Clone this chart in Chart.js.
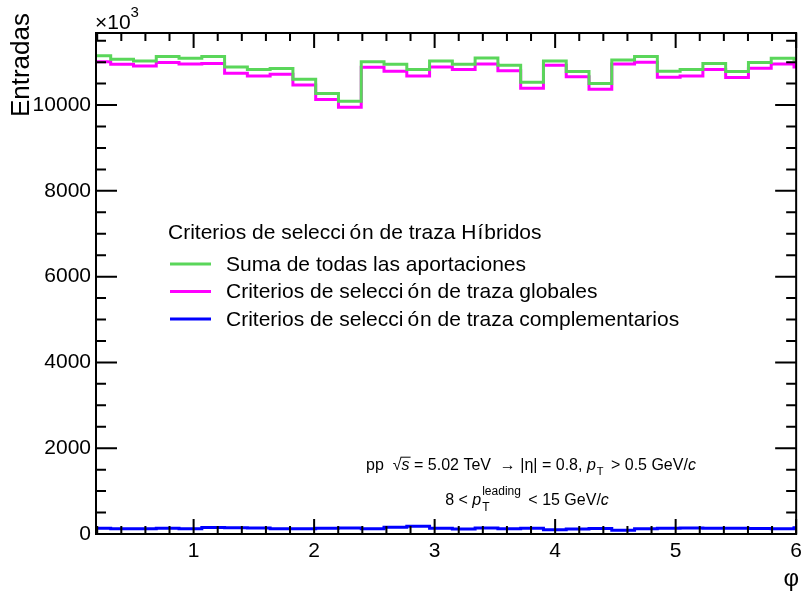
<!DOCTYPE html>
<html>
<head>
<meta charset="utf-8">
<script src="https://cdn.jsdelivr.net/npm/chart.js@4.4.0/dist/chart.umd.min.js"></script>
<style>
  html, body { margin: 0; padding: 0; background: #fff; }
</style>
</head>
<body>
<canvas id="phiChart" width="807" height="593"></canvas>
<script>
// Bordes de los bins en φ (el primero y el último quedan cortados por el eje)
const phiEdges = [0.123, 0.312, 0.501, 0.690, 0.879, 1.068, 1.257, 1.446, 1.635, 1.824,
                  2.013, 2.202, 2.391, 2.580, 2.769, 2.958, 3.147, 3.336, 3.525, 3.714,
                  3.903, 4.092, 4.281, 4.470, 4.659, 4.848, 5.037, 5.226, 5.415, 5.604,
                  5.793, 5.982, 6.171];

// Entradas por bin
const sumaTotal = [11150, 11070, 11030, 11130, 11090, 11130, 10890, 10830, 10850, 10600,
                   10270, 10090, 11010, 10950, 10830, 11030, 10950, 11100, 10930, 10530,
                   11030, 10780, 10500, 11050, 11130, 10790, 10830, 10970, 10780, 10990,
                   11090, 11070];
const trazasGlobales = [11010, 10950, 10910, 10990, 10960, 10970, 10740, 10680, 10720, 10470,
                        10130, 9950, 10880, 10790, 10680, 10890, 10830, 10960, 10800, 10390,
                        10930, 10660, 10370, 10960, 11000, 10650, 10680, 10830, 10640, 10860,
                        10960, 10890];
const trazasComplementarias = [135, 120, 120, 135, 125, 150, 145, 140, 125, 125,
                               135, 140, 125, 155, 180, 135, 115, 140, 125, 135,
                               100, 115, 130, 90, 125, 135, 140, 135, 135, 130,
                               125, 145];

// Marcas de los ejes
const xTicks = [1, 2, 3, 4, 5, 6];
const yTicks = [0, 2000, 4000, 6000, 8000, 10000];

const legendTitle = 'Criterios de selección de traza Híbridos';
const seriesNames = ['Suma de todas las aportaciones',
                     'Criterios de selección de traza globales',
                     'Criterios de selección de traza complementarios'];

const FONT = '"Liberation Sans", Arial, Helvetica, sans-serif';

// Convierte bordes + contenidos en puntos para una línea escalonada
function toSteps(values) {
    return phiEdges.map((e, i) => ({ x: e, y: values[Math.min(i, values.length - 1)] }));
}

function stepDataset(label, values, color) {
    return {
        label: label,
        data: toSteps(values),
        borderColor: color,
        backgroundColor: color,
        borderWidth: 3,
        stepped: true,
        pointRadius: 0,
        fill: false
    };
}

// Texto de leyenda: las vocales acentuadas llevan algo de aire alrededor, como en TLatex
function drawLegendText(ctx, text, x, y) {
    const spacing = { 'ó': [4, 1], 'í': [1, 1] };
    let buf = '';
    const flush = () => {
        if (!buf) return;
        ctx.fillText(buf, x, y);
        x += ctx.measureText(buf).width;
        buf = '';
    };
    for (const ch of text) {
        if (spacing[ch]) {
            flush();
            x += spacing[ch][0];
            ctx.fillText(ch, x, y);
            x += ctx.measureText(ch).width + spacing[ch][1];
        } else {
            buf += ch;
        }
    }
    flush();
}

// Dibuja un texto compuesto por trozos (cursiva, subíndices, superíndices)
function drawPieces(ctx, pieces, cx, baseY, size) {
    const fontOf = p => `${p.italic ? 'italic ' : ''}${Math.round(size * (p.scale || 1))}px ${FONT}`;
    let total = 0;
    pieces.forEach(p => {
        if (p.stack) {
            p.w = Math.max(...p.stack.map(s => { ctx.font = fontOf(s); return ctx.measureText(s.t).width; }));
        } else {
            ctx.font = fontOf(p);
            p.w = ctx.measureText(p.t).width;
        }
        total += p.w + (p.gap || 0);
    });
    let x = cx - total / 2;
    pieces.forEach(p => {
        if (p.stack) {
            p.stack.forEach(s => {
                ctx.font = fontOf(s);
                ctx.fillText(s.t, x, baseY + s.dy);
            });
        } else {
            ctx.font = fontOf(p);
            ctx.fillText(p.t, x, baseY + (p.dy || 0));
            if (p.overline) {
                ctx.beginPath();
                ctx.lineWidth = 1;
                ctx.moveTo(x - 1, baseY - size * 0.8);
                ctx.lineTo(x + p.w + 1, baseY - size * 0.8);
                ctx.stroke();
            }
        }
        x += p.w + (p.gap || 0);
    });
}

// Marco, marcas interiores, títulos, leyenda y anotaciones al estilo ROOT
const rootFrame = {
    id: 'rootFrame',
    afterDraw(chart) {
        const { ctx, chartArea: a, scales: { x, y } } = chart;
        ctx.save();
        ctx.strokeStyle = '#000';
        ctx.fillStyle = '#000';
        ctx.lineWidth = 2;
        ctx.strokeRect(a.left, a.top, a.right - a.left, a.bottom - a.top);

        ctx.beginPath();
        for (let i = 1; i <= 30; i++) {
            const v = i * 0.2;
            if (v <= x.min || v > x.max + 1e-6) continue;
            const px = x.getPixelForValue(v);
            const len = i % 5 === 0 ? 15 : 8;
            ctx.moveTo(px, a.bottom); ctx.lineTo(px, a.bottom - len);
            ctx.moveTo(px, a.top); ctx.lineTo(px, a.top + len);
        }
        for (let i = 1; i * 500 <= y.max; i++) {
            const py = y.getPixelForValue(i * 500);
            const len = i % 4 === 0 ? 21 : 10;
            ctx.moveTo(a.left, py); ctx.lineTo(a.left + len, py);
            ctx.moveTo(a.right, py); ctx.lineTo(a.right - len, py);
        }
        ctx.stroke();

        // Título del eje Y, alineado al extremo superior
        ctx.save();
        ctx.translate(22, 13);
        ctx.rotate(-Math.PI / 2);
        ctx.font = `26px ${FONT}`;
        ctx.textAlign = 'right';
        ctx.textBaseline = 'middle';
        ctx.fillText('Entradas', 0, 0);
        ctx.restore();

        // Multiplicador ×10³
        ctx.textAlign = 'left';
        ctx.textBaseline = 'alphabetic';
        ctx.font = `21px ${FONT}`;
        ctx.fillText('×10', a.left - 1, 29);
        const w10 = ctx.measureText('×10').width;
        ctx.font = `15px ${FONT}`;
        ctx.fillText('3', a.left - 1 + w10, 17);

        // Título del eje X
        ctx.font = `24px ${FONT}`;
        ctx.textAlign = 'right';
        ctx.fillText('φ', a.right + 3, 586);

        // Leyenda
        ctx.textAlign = 'left';
        ctx.textBaseline = 'middle';
        ctx.font = `21px ${FONT}`;
        drawLegendText(ctx, legendTitle, 168, 233);
        chart.data.datasets.forEach((ds, i) => {
            const ly = 264 + i * 27.5;
            ctx.strokeStyle = ds.borderColor;
            ctx.lineWidth = 3;
            ctx.beginPath();
            ctx.moveTo(170, ly); ctx.lineTo(211, ly);
            ctx.stroke();
            drawLegendText(ctx, ds.label, 226, ly + 1);
        });

        // Anotación de cinemática
        ctx.strokeStyle = '#000';
        ctx.fillStyle = '#000';
        ctx.textAlign = 'left';
        ctx.textBaseline = 'alphabetic';
        drawPieces(ctx, [
            { t: 'pp  ' },
            { t: '√' },
            { t: 's', italic: true, overline: true },
            { t: ' = 5.02 TeV  → |η| = 0.8, ' },
            { t: 'p', italic: true, gap: 1 },
            { t: 'T', scale: 0.7, dy: 5, gap: 3 },
            { t: ' > 0.5 GeV/' },
            { t: 'c', italic: true }
        ], 531, 470, 16);
        drawPieces(ctx, [
            { t: '8 < ' },
            { t: 'p', italic: true, gap: 1 },
            { stack: [{ t: 'leading', scale: 0.72, dy: -10 }, { t: 'T', scale: 0.72, dy: 6 }], gap: 3 },
            { t: ' < 15 GeV/' },
            { t: 'c', italic: true }
        ], 527, 505, 16);
        ctx.restore();
    }
};

new Chart(document.getElementById('phiChart'), {
    type: 'line',
    data: {
        datasets: [
            stepDataset(seriesNames[0], sumaTotal, '#5ad65a'),
            stepDataset(seriesNames[1], trazasGlobales, '#ff00ff'),
            stepDataset(seriesNames[2], trazasComplementarias, '#0000ff')
        ]
    },
    options: {
        responsive: false,
        animation: false,
        layout: { padding: { top: 33, right: 5, left: 0, bottom: 0 } },
        plugins: {
            legend: { display: false },
            tooltip: { enabled: false }
        },
        scales: {
            x: {
                type: 'linear',
                min: 0.19,
                max: 6.0,
                grid: { display: false, drawTicks: false },
                border: { display: false },
                afterBuildTicks: axis => { axis.ticks = xTicks.map(v => ({ value: v })); },
                afterFit: axis => { axis.height = 59; },
                ticks: {
                    color: '#000',
                    padding: 5,
                    maxRotation: 0,
                    font: { family: FONT, size: 21 },
                    callback: v => String(v)
                }
            },
            y: {
                min: 0,
                max: 11680,
                grid: { display: false, drawTicks: false },
                border: { display: false },
                afterBuildTicks: axis => { axis.ticks = yTicks.map(v => ({ value: v })); },
                afterFit: axis => { axis.width = 96; },
                ticks: {
                    color: '#000',
                    padding: 5,
                    font: { family: FONT, size: 21 },
                    callback: v => String(v)
                }
            }
        }
    },
    plugins: [rootFrame]
});
</script>
</body>
</html>
